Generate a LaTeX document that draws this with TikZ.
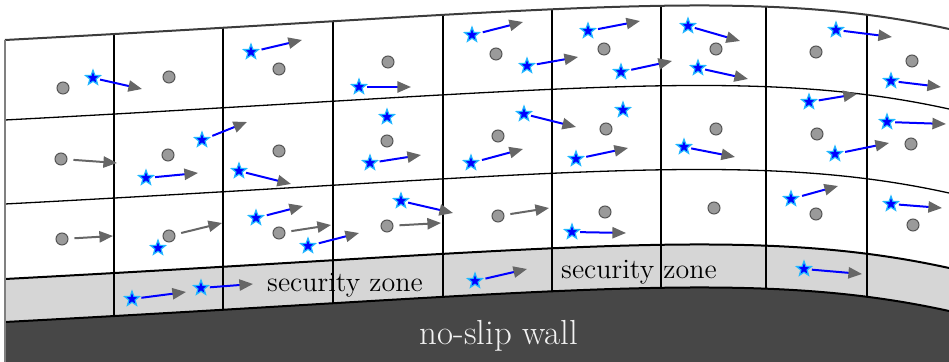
\documentclass[tikz,border=0pt]{standalone}
\usetikzlibrary{shapes.geometric,arrows.meta}

\definecolor{wallgray}{HTML}{474747}
\definecolor{zonegray}{HTML}{D6D6D6}
\definecolor{tipgray}{HTML}{666666}
\definecolor{dotgray}{HTML}{9A9A9A}
\definecolor{dotedge}{HTML}{555555}
\definecolor{starrim}{HTML}{22B8FF}
\definecolor{toplinegray}{HTML}{3C3C3C}
\definecolor{wallfont}{HTML}{F2F2F2}

% one streamwise grid line, shifted down by #1
\newcommand\flowcurve[1]{(5,40+#1) .. controls (555,11+#1) and (749,-15+#1) .. (949,29+#1)}

\begin{document}
\begin{tikzpicture}[x=0.5pt,y=-0.5pt,
  dot/.style={circle,draw=dotedge,fill=dotgray,line width=0.5pt,minimum size=6pt,inner sep=0pt},
  tracer/.style={star,star points=5,star point ratio=2.4,draw=starrim,fill=blue,line width=0.6pt,minimum size=7.8pt,inner sep=0pt},
  headtip/.style={-{Triangle[color=tipgray,length=6.8pt,width=5.6pt]}},
  blueshift/.style={draw=blue,line width=1pt,shorten <=1.5pt,headtip},
  grayshift/.style={draw=tipgray,line width=1pt,shorten <=3pt,headtip},
  gridline/.style={black,line width=0.65pt},
  boldline/.style={black,line width=1pt},
  label/.style={font=\fontsize{14}{16}\selectfont,anchor=base,text=black}
]
\useasboundingbox (0,0) rectangle (949,362);

% wall and security zone
\fill[wallgray] \flowcurve{282} -- (949,362) -- (5,362) -- cycle;
\fill[zonegray] (5,279) .. controls (555,250) and (749,224) .. (949,268)
  -- (949,311) .. controls (749,267) and (555,293) .. (5,322) -- cycle;

% cross-stream cell boundaries, limited to the grid
\begin{scope}
  \clip (5,40) .. controls (555,11) and (749,-15) .. (949,29)
    -- (949,311) .. controls (749,267) and (555,293) .. (5,322) -- cycle;
  \foreach \gx in {114,223,333,443,552,661,766,867}
    \draw[black,line width=0.75pt] (\gx,0) -- (\gx,362);
\end{scope}

% streamwise cell boundaries
\draw[gridline] \flowcurve{80};
\draw[gridline] \flowcurve{164};
\draw[boldline] \flowcurve{239};
\draw[boldline] \flowcurve{282};
\draw[toplinegray,line width=1pt] \flowcurve{0};
\draw[gray,line width=1pt] (5,40) -- (5,362);

% texts
\node[label] (zoneA) at (345,292) {security zone};
\node[label] (zoneB) at (639,279) {security zone};
\node[font=\fontsize{17.4}{20}\selectfont,anchor=base,text=wallfont] (wall) at (499,345) {no-slip wall};

% cell-centre points
\foreach \n/\px/\py in {c1/63/88, c2/169/77, c3/279/69, c4/61/159, c5/168/155, c6/279/151,
  c7/388/62, c8/496/54, c9/604/49, c10/387/141, c11/498/136, c12/606/129,
  c13/716/49, c14/816/52, c15/912/61, c16/716/129, c17/817/134, c18/911/144,
  c19/62/239, c20/169/236, c21/279/233, c22/387/226, c23/498/216, c24/605/212,
  c25/714/208, c26/816/214, c27/913/225}
  \node[dot] (\n) at (\px,\py) {};

% particles
\foreach \n/\px/\py in {s1/93/78, s2/251/52, s3/202/140, s4/146/178, s5/239/171,
  s6/359/87, s7/472/35, s8/527/66, s9/588/31, s10/621/72, s11/387/117, s12/370/163,
  s13/524/114, s14/471/163, s15/623/110, s16/576/159, s17/688/26, s18/698/68,
  s19/836/30, s20/891/81, s21/809/102, s22/835/154, s23/887/122, s24/684/147,
  s25/158/248, s26/256/218, s27/308/246, s28/401/201, s29/572/232, s30/791/199,
  s31/891/204, s32/132/299, s33/201/288, s34/475/281, s35/804/269}
  \node[tracer] (\n) at (\px,\py) {};

% velocities at the cell-centre points
\foreach \n/\ex/\ey in {c4/117/163, c19/113/236, c20/222/223, c21/331/225, c22/441/223, c23/549/208}{
  \coordinate (\n-end) at (\ex,\ey);
  \draw[grayshift] (\n) -- (\n-end);
}

% particle velocities
\foreach \n/\ex/\ey in {s1/142/89, s2/302/40, s3/247/122, s4/198/173, s5/291/184,
  s6/411/87, s7/523/22, s8/578/57, s9/640/21, s10/672/61, s12/421/155,
  s13/576/127, s14/523/149, s16/628/148, s17/740/41, s18/748/79,
  s19/892/37, s20/941/87, s21/857/94, s22/889/143, s23/946/124, s24/735/157,
  s26/303/206, s27/359/233, s28/453/213, s29/626/233, s30/838/186,
  s31/942/208, s32/186/292, s33/253/284, s34/527/269, s35/862/274}{
  \coordinate (\n-end) at (\ex,\ey);
  \draw[blueshift] (\n) -- (\n-end);
}
\end{tikzpicture}
\end{document}
